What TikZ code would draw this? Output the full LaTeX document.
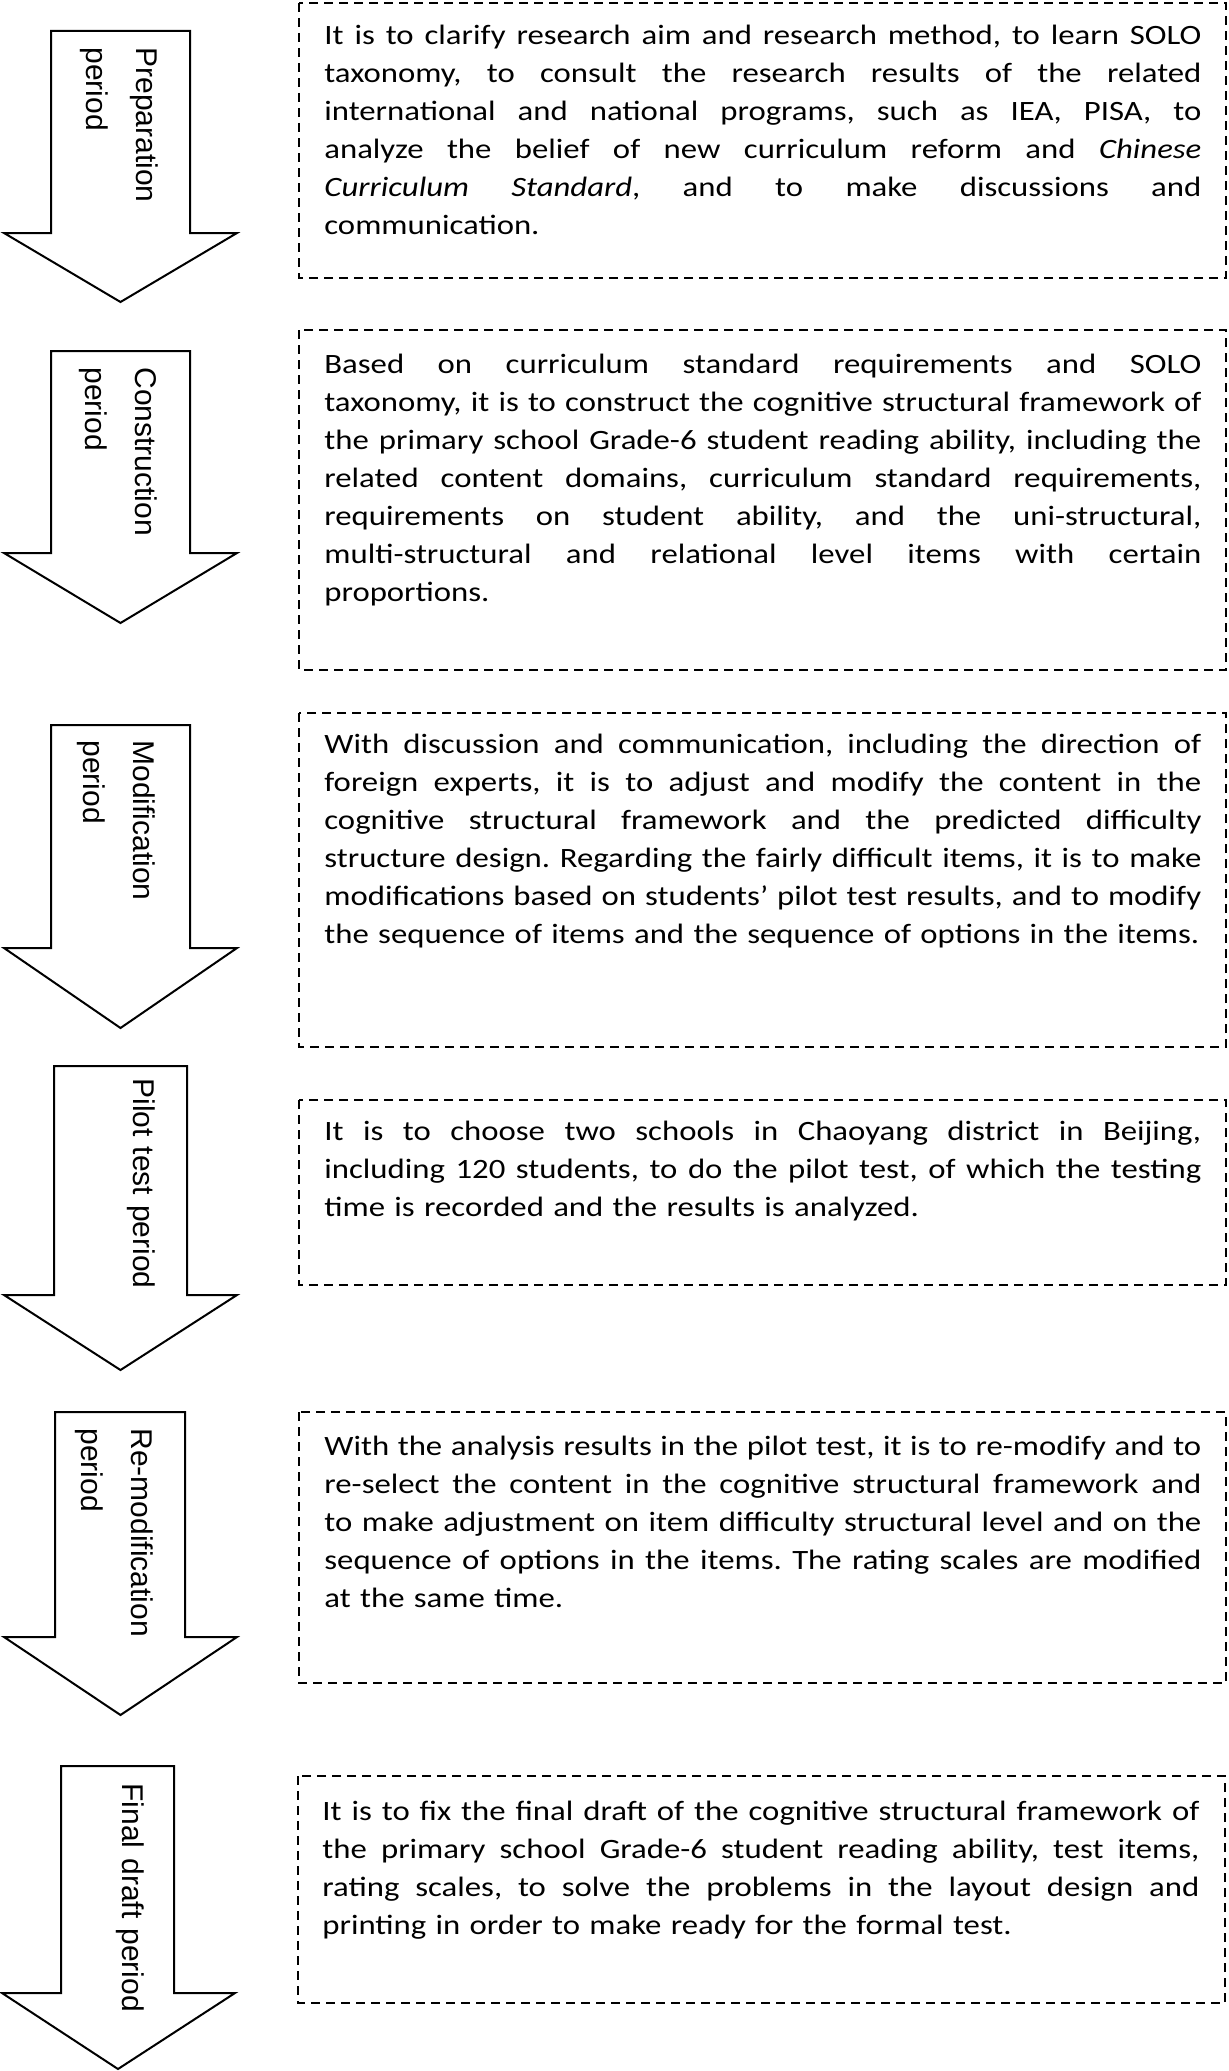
\documentclass[tikz,border=0pt]{standalone}
\usepackage{fontspec}
\setmainfont{Carlito}[FakeStretch=1.17]
\newfontfamily\labelfont{Liberation Sans}[WordSpace=1.7]
\frenchspacing
\newcommand{\jl}[1]{\hbox to\hsize{\spaceskip=0.26em plus 1fil\xspaceskip=\spaceskip #1}\par}
\newcommand{\lastl}[1]{\hbox{#1}\par}
\begin{document}
\begin{tikzpicture}[x=0.5pt,y={(0,-0.5pt)},
  arrowshape/.style={draw=black, line width=1pt, fill=white, line join=miter},
  descbox/.style={draw=black, line width=1.1pt, dash pattern=on 4.5pt off 3pt},
  bodytext/.style={anchor=base west, inner sep=0pt, text width=438.5pt,
    font=\fontsize{14}{19}\selectfont\frenchspacing},
  phaselabel/.style={rotate=-90, anchor=base west, inner sep=0pt, text width=200pt,
    align=left, font=\labelfont\fontsize{15}{25}\selectfont}]
\useasboundingbox (0,0) rectangle (1229,2071);

% ---- phase arrows
\draw[arrowshape] (51,31) -- (190,31) -- (190,233) -- (237,233) -- (120.5,302) -- (4,233) -- (51,233) -- cycle;
\draw[arrowshape] (51,351) -- (190,351) -- (190,553) -- (237,553) -- (120.5,623) -- (4,553) -- (51,553) -- cycle;
\draw[arrowshape] (51,725) -- (190,725) -- (190,948) -- (237,948) -- (120.5,1028) -- (4,948) -- (51,948) -- cycle;
\draw[arrowshape] (54,1066) -- (187,1066) -- (187,1295) -- (237,1295) -- (120.5,1370) -- (4,1295) -- (54,1295) -- cycle;
\draw[arrowshape] (55,1412) -- (185,1412) -- (185,1637) -- (237,1637) -- (120.5,1715) -- (4,1637) -- (55,1637) -- cycle;
\draw[arrowshape] (61,1766) -- (174,1766) -- (174,1993) -- (235,1993) -- (118,2069) -- (2,1993) -- (61,1993) -- cycle;

% ---- phase labels
\node[phaselabel] (l1) at (136,47) {Preparation\\period};
\node[phaselabel] (l2) at (135,367) {Construction\\period};
\node[phaselabel] (l3) at (133,740) {Modification\\period};
\node[phaselabel] (l4) at (133,1078) {Pilot test period};
\node[phaselabel] (l5) at (131,1428) {Re-modification\\period};
\node[phaselabel] (l6) at (122,1783) {Final draft period};

% ---- description boxes
\draw[descbox] (299,3) rectangle (1226,278);
\draw[descbox] (299,330) rectangle (1226,670);
\draw[descbox] (299,713) rectangle (1226,1047);
\draw[descbox] (299,1100) rectangle (1226,1285);
\draw[descbox] (299,1412) rectangle (1226,1683);
\draw[descbox] (298,1776) rectangle (1225,2003);

% ---- description texts
\node[bodytext] (t1) at (324,45) {%
\jl{It is to clarify research aim and research method, to learn SOLO}%
\jl{taxonomy, to consult the research results of the related}%
\jl{international and national programs, such as IEA, PISA, to}%
\jl{analyze the belief of new curriculum reform and \textit{Chinese}}%
\jl{\textit{Curriculum Standard}, and to make discussions and}%
\lastl{communication.}};

\node[bodytext] (t2) at (324,373) {%
\jl{Based on curriculum standard requirements and SOLO}%
\jl{taxonomy, it is to construct the cognitive structural framework of}%
\jl{the primary school Grade-6 student reading ability, including the}%
\jl{related content domains, curriculum standard requirements,}%
\jl{requirements on student ability, and the uni-structural,}%
\jl{multi-structural and relational level items with certain}%
\lastl{proportions.}};

\node[bodytext] (t3) at (324,753) {%
\jl{With discussion and communication, including the direction of}%
\jl{foreign experts, it is to adjust and modify the content in the}%
\jl{cognitive structural framework and the predicted difficulty}%
\jl{structure design. Regarding the fairly difficult items, it is to make}%
\jl{modifications based on students’ pilot test results, and to modify}%
\lastl{the sequence of items and the sequence of options in the items.}};

\node[bodytext] (t4) at (324,1140) {%
\jl{It is to choose two schools in Chaoyang district in Beijing,}%
\jl{including 120 students, to do the pilot test, of which the testing}%
\lastl{time is recorded and the results is analyzed.}};

\node[bodytext] (t5) at (324,1455) {%
\jl{With the analysis results in the pilot test, it is to re-modify and to}%
\jl{re-select the content in the cognitive structural framework and}%
\jl{to make adjustment on item difficulty structural level and on the}%
\jl{sequence of options in the items. The rating scales are modified}%
\lastl{at the same time.}};

\node[bodytext] (t6) at (322,1820) {%
\jl{It is to fix the final draft of the cognitive structural framework of}%
\jl{the primary school Grade-6 student reading ability, test items,}%
\jl{rating scales, to solve the problems in the layout design and}%
\lastl{printing in order to make ready for the formal test.}};
\end{tikzpicture}
\end{document}
